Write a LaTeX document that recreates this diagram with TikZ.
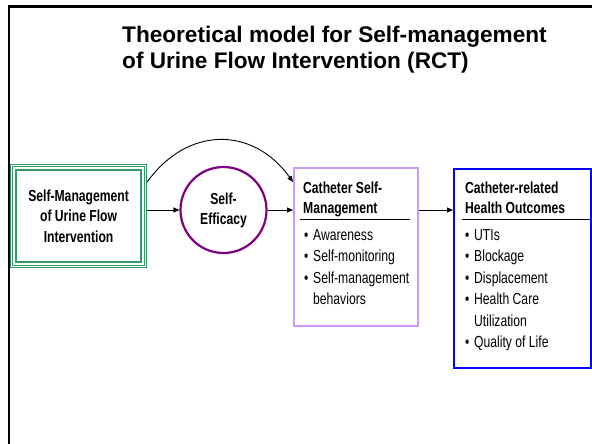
\documentclass[tikz,border=0pt]{standalone}
\usepackage{fontspec}
\setmainfont{Liberation Sans}
\newfontfamily\narrowfont[FakeStretch=0.76]{Liberation Sans}
\usetikzlibrary{arrows.meta,calc}
\definecolor{boxgreen}{RGB}{51,153,102}
\definecolor{efpurple}{RGB}{128,0,128}
\definecolor{lav}{RGB}{204,153,255}
\definecolor{hoblue}{RGB}{0,0,255}
\newcommand{\bul}{\makebox[9pt][l]{\textbullet}}
\begin{document}
\begin{tikzpicture}[x=1pt,y=-1pt,
  txt/.style={font=\narrowfont\fontsize{16}{20.5}\selectfont, inner sep=0pt},
  head/.style={inner sep=0pt, font=\narrowfont\bfseries\fontsize{16}{20.5}\selectfont, anchor=base west},
  item/.style={txt, anchor=base west},
  arr/.style={-{Triangle[length=6pt,width=5pt]}, line width=0.9pt},
  sep/.style={line width=0.9pt},
  titletext/.style={anchor=base west, inner sep=0pt, font=\bfseries\fontsize{22.6}{27}\selectfont}]
\fill[white] (0,0) rectangle (592,444);
\useasboundingbox (0,0) rectangle (592,444);
\draw[line width=2.6pt, line join=miter] (9,444) -- (9,6.3) -- (592,6.3);
% title
\node[titletext] (t1) at (122,43) {Theoretical model for Self-management};
\node[titletext] (t2) at (122,69) {of Urine Flow Intervention (RCT)};
% left box
\node[draw=boxgreen, line width=1.2pt, minimum width=136pt, minimum height=103pt, inner sep=0pt,
      anchor=north west, align=center, font=\narrowfont\bfseries\fontsize{16}{20.5}\selectfont]
      (lb) at (10,164) {Self-Management\\of Urine Flow\\Intervention};
\draw[boxgreen, line width=0.9pt] ($(lb.north west)+(2.8,2.8)$) rectangle ($(lb.south east)+(-2.8,-2.8)$);
\draw[boxgreen, line width=1.6pt] ($(lb.north west)+(6,6)$) rectangle ($(lb.south east)+(-6,-6)$);
% self-efficacy
\node[circle, draw=efpurple, line width=2.2pt, minimum size=86pt, inner sep=0pt, align=center,
      font=\narrowfont\bfseries\fontsize{16}{20}\selectfont] (se) at (223.5,210) {Self-\\Efficacy};
% catheter self-management
\node[draw=lav, line width=2pt, minimum width=124pt, minimum height=158pt, inner sep=0pt, anchor=north west] (csm) at (293,167) {};
\node[head] (csmh1) at (303,193) {Catheter Self-};
\node[head] (csmh2) at (303,213) {Management};
\draw[sep] (300,219) -- (410,219);
\node[item] (c1) at (304,240) {\bul Awareness};
\node[item] (c2) at (304,261.5) {\bul Self-monitoring};
\node[item] (c3) at (304,283) {\bul Self-management};
\node[item] (c4) at (313,304.5) {behaviors};
% health outcomes
\node[draw=hoblue, line width=2.4pt, minimum width=137pt, minimum height=199pt, inner sep=0pt, anchor=north west] (ho) at (453,168) {};
\node[head] (hoh1) at (465,193) {Catheter-related};
\node[head] (hoh2) at (465,213) {Health Outcomes};
\draw[sep] (462,219) -- (590,219);
\node[item] (h1) at (465,240) {\bul UTIs};
\node[item] (h2) at (465,261.5) {\bul Blockage};
\node[item] (h3) at (465,283) {\bul Displacement};
\node[item] (h4) at (465,304.5) {\bul Health Care};
\node[item] (h5) at (474,326) {Utilization};
\node[item] (h6) at (465,347.5) {\bul Quality of Life};
% connectors
\draw[arr] (lb.east |- se.center) -- (se.west);
\draw[arr] (se.east) -- (se.east -| csm.west);
\draw[arr] (csm.east |- se.center) -- (ho.west |- se.center);
\draw[arr] ($(lb.north east)+(0,18)$) .. controls +(40,-56) and +(-40,-56) .. ($(csm.north west)+(0,15)$);
\end{tikzpicture}
\end{document}
